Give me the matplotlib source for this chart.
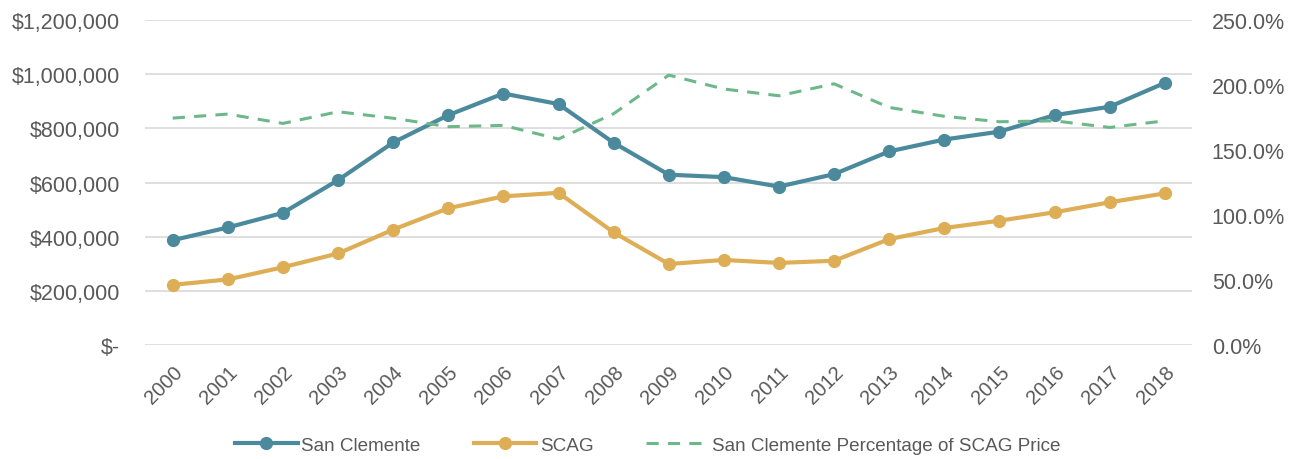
"""San Clemente vs SCAG median home price, 2000-2018."""

import matplotlib

matplotlib.use("Agg")
import matplotlib.pyplot as plt
from matplotlib.lines import Line2D
from matplotlib.ticker import FuncFormatter

YEARS = [str(y) for y in range(2000, 2019)]
SAN_CLEMENTE = [
    387000, 434000, 488000, 609000, 748000, 849000, 929000, 890000, 747000, 629000,
    620000, 585000, 631000, 715000, 759000, 788000, 849000, 880000, 968000,
]
SCAG = [
    222000, 242000, 287000, 338000, 426000, 505000, 549000, 562000, 416000, 299000,
    314000, 303000, 311000, 391000, 432000, 459000, 490000, 527000, 560000,
]
PCT_OF_SCAG = [
    174.6, 177.7, 170.5, 179.5, 174.5, 168.0, 169.0, 158.5, 178.0, 207.7,
    197.0, 191.8, 201.0, 182.8, 176.0, 171.8, 172.5, 167.4, 172.5,
]

TEAL = "#4A8A9C"
GOLD = "#DDAE55"
GREEN = "#6DB88A"
TEXT = "#595959"
GRID = "#D9D9D9"

plt.rcParams["font.family"] = ["Liberation Sans", "DejaVu Sans"]

fig = plt.figure(figsize=(12.96, 4.6), dpi=100)
ax = fig.add_axes([0.112, 0.248, 0.808, 0.706])
ax2 = ax.twinx()

x = list(range(len(YEARS)))
ax.plot(x, SAN_CLEMENTE, color=TEAL, lw=3.0, marker="o", ms=8.5, zorder=4)
ax.plot(x, SCAG, color=GOLD, lw=3.0, marker="o", ms=8.5, zorder=4)
ax2.plot(x, PCT_OF_SCAG, color=GREEN, lw=2.2, ls=(0, (4, 3)), zorder=3)

ax.set_xlim(-0.5, 18.5)
ax.set_ylim(0, 1200000)
ax.set_yticks(range(0, 1200001, 200000))
ax.yaxis.set_major_formatter(
    FuncFormatter(lambda v, _: "$-" if v == 0 else f"${v:,.0f}")
)
ax2.set_ylim(0, 250)
ax2.set_yticks(range(0, 251, 50))
ax2.yaxis.set_major_formatter(FuncFormatter(lambda v, _: f"{v:.1f}%"))

ax.set_xticks(x)
ax.set_xticklabels(YEARS, rotation=45, ha="right", rotation_mode="anchor")
ax.grid(axis="y", color=GRID, lw=1.2)
ax.set_axisbelow(True)

for axis in (ax, ax2):
    for spine in axis.spines.values():
        spine.set_visible(False)
    axis.tick_params(length=0, labelsize=15.5, colors=TEXT)
ax.tick_params(axis="x", pad=12, labelsize=14.5)
ax.tick_params(axis="y", pad=18)
ax2.tick_params(axis="y", pad=14)

handles = [
    Line2D([], [], color=TEAL, lw=3.0, marker="o", ms=8.5),
    Line2D([], [], color=GOLD, lw=3.0, marker="o", ms=8.5),
    Line2D([], [], color=GREEN, lw=2.2, ls=(0, (4, 3))),
]
labels = ["San Clemente", "SCAG", "San Clemente Percentage of SCAG Price"]
fig.legend(
    handles, labels, loc="center", bbox_to_anchor=(0.5, 0.03), ncol=3,
    frameon=False, fontsize=13.6, labelcolor=TEXT, handlelength=3.3,
    columnspacing=2.8, handletextpad=0.2,
)

fig.savefig("out.png", dpi=100)
plt.close(fig)
